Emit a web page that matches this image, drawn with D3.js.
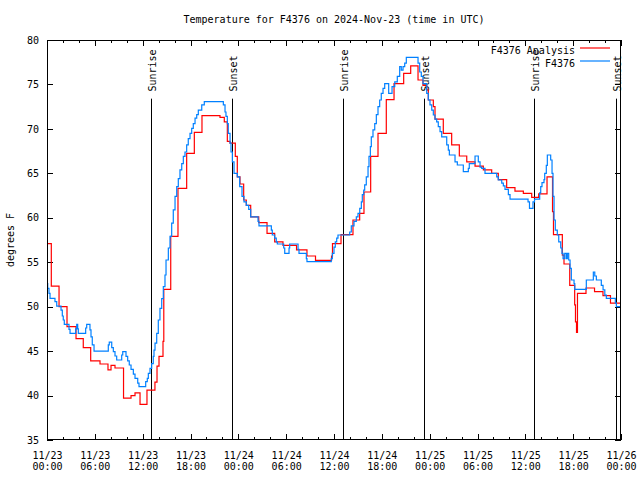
<!DOCTYPE html>
<html><head><meta charset="utf-8">
<script src="https://cdn.jsdelivr.net/npm/d3@7"></script>
<style>
body{margin:0;background:#fff;}
text{font-family:"DejaVu Sans Mono","Liberation Mono",monospace;font-size:10px;fill:#000;}
</style></head>
<body><svg id="c" width="640" height="480"></svg>
<script>
// ---- data (hours since 2024-11-23 00:00 UTC) ----
const chartTitle = "Temperature for F4376 on 2024-Nov-23 (time in UTC)";
const yLabel = "degrees F";
const seriesNames = ["F4376 Analysis", "F4376"];
const yTicks = [35,40,45,50,55,60,65,70,75,80];

const analysisHours = [0,0.54,1.51,2.51,3.64,4.55,5.48,6.65,7.65,8.03,8.53,9.6,10.54,11.04,11.67,12.54,13.54,13.8,14.05,14.55,14.65,15.52,16.43,17.52,18.48,19.44,21.7,22.24,22.62,22.96,23.62,23.87,24.21,24.67,25.0,25.55,26.56,27.6,28.56,29.6,31.3,32.61,33.68,35.69,35.81,36.88,38.38,39.22,39.76,40.6,41.52,42.56,43.53,44.74,45.62,46.54,47.16,47.63,47.83,48.46,48.67,49.71,50.76,51.72,52.65,53.69,54.73,55.78,56.61,57.66,58.7,59.75,60.8,61.68,62.72,63.41,63.53,64.64,64.85,65.57,66.19,66.29,66.42,66.54,67.61,68.68,69.74,70.68,72];
const analysisTemps = [57.1,52.3,50.0,47.75,46.4,45.4,43.9,43.55,42.9,43.4,43.1,39.7,40.0,40.3,39.0,40.6,41.5,43.3,44.4,46.1,51.95,57.9,63.3,67.25,69.6,71.5,71.3,70.8,68.6,68.4,66.9,64.6,63.8,62.0,61.4,60.1,59.45,58.25,57.3,56.9,56.4,55.7,55.2,55.7,57.1,58.1,59.75,60.5,62.9,66.9,69.5,73.3,75.1,76.25,77.1,75.5,74.9,74.4,73.25,72.5,71.1,69.5,68.2,66.95,66.3,65.8,65.4,65.0,64.3,63.4,63.0,62.75,62.3,62.7,64.6,60.7,58.1,55.8,54.8,52.4,50.2,48.3,47.1,51.5,52.1,51.7,51.25,50.4,50.4];

const stationHours = [0,0.09,0.25,0.38,1.0,1.22,1.76,1.92,2.04,2.17,2.76,2.89,3.6,3.73,3.85,3.93,4.85,4.98,5.39,5.52,5.68,5.9,7.69,7.81,8.12,8.32,8.53,8.74,9.37,9.5,9.91,10.12,10.32,10.54,10.83,11.04,11.38,11.54,12.38,12.58,12.71,12.92,13.13,13.33,13.42,13.55,13.76,13.96,14.17,14.39,14.59,14.8,14.93,15.22,15.43,15.64,15.84,16.06,16.27,16.47,16.68,16.9,17.1,17.31,17.52,17.72,17.94,18.15,18.35,18.57,18.78,18.98,19.41,19.73,22.12,22.33,22.45,22.62,22.74,22.96,23.08,23.25,23.46,23.87,24.17,24.46,24.71,25.0,25.3,25.55,26.47,26.59,28.14,28.26,28.56,28.76,28.89,29.69,29.82,30.36,30.44,31.49,31.61,32.53,32.61,35.66,35.79,36.0,36.16,36.34,36.5,37.97,38.17,38.51,38.8,39.01,39.23,39.43,39.55,39.73,39.85,40.05,40.27,40.39,40.56,40.68,40.89,41.11,41.31,41.52,41.73,41.93,42.15,42.36,42.86,43.28,43.62,43.94,44.24,44.44,44.66,44.87,45.07,46.54,46.75,46.95,47.16,47.63,47.83,48.04,48.26,48.46,48.67,48.88,49.08,49.3,49.51,50.14,50.34,50.47,51.18,51.47,52.22,52.85,52.97,53.69,54.1,54.32,54.53,54.94,56.41,56.61,57.04,57.24,57.45,57.87,58.08,60.34,60.52,60.96,61.15,61.8,61.93,62.09,62.34,62.43,62.63,62.76,63.18,63.35,63.47,63.6,63.76,64.01,64.19,64.44,64.6,64.73,64.94,65.14,65.27,65.44,65.61,65.77,66.11,66.2,67.65,68.53,68.71,68.91,69.53,69.75,69.97,70.16,71.29,71.42,72];
const stationTemps = [52.6,52.06,51.5,50.94,50.56,50.07,49.6,48.95,48.5,48.0,47.45,47.0,47.5,48.0,47.5,47.0,47.6,48.0,47.4,46.6,45.7,45.0,45.7,46.0,45.4,44.94,44.45,44.0,44.56,44.94,44.4,43.9,43.44,42.95,42.4,41.94,41.4,41.0,41.56,41.94,42.5,43.06,43.6,44.4,45.1,45.9,47.0,48.5,49.8,50.9,52.25,53.56,55.25,56.6,57.9,59.4,60.9,62.4,63.5,64.4,65.4,66.1,66.9,67.4,68.2,68.9,69.5,70.06,70.6,71.2,71.6,72.1,72.7,73.06,72.7,71.9,71.4,70.6,69.5,68.4,67.4,66.3,65.0,64.6,63.5,62.4,61.8,61.4,60.95,60.1,59.6,59.1,58.6,58.06,57.7,57.3,57.05,56.6,56.0,56.6,57.05,56.45,56.0,55.4,55.06,55.4,56.0,56.7,57.3,57.7,58.06,58.4,59.1,59.6,60.1,60.5,61.06,61.8,62.6,63.1,63.7,64.6,65.75,66.9,68.0,69.1,69.9,70.6,71.6,72.5,73.25,74.0,74.56,75.1,74.0,74.75,75.3,75.9,77.0,76.6,77.0,77.4,78.05,77.4,76.4,75.9,75.1,74.0,73.25,72.7,72.1,71.56,71.1,70.8,70.25,69.7,69.1,68.2,67.6,67.06,66.3,65.94,65.2,65.56,66.1,66.95,66.3,65.7,65.56,65.0,64.6,64.25,63.9,63.6,63.2,62.6,62.1,61.8,61.06,61.8,62.1,62.8,63.5,63.95,64.3,65.0,65.9,67.06,66.5,65.0,62.4,59.75,58.6,58.06,57.3,56.6,56.0,55.4,56.0,55.4,56.0,55.25,54.3,53.0,52.6,51.95,53.0,53.9,53.45,53.0,52.4,51.9,51.3,50.94,50.4,50.0,50.0];

const sunHours = [13.05,23.24,37.13,47.25,61.09,71.32];
const sunLabels = ["Sunrise","Sunset","Sunrise","Sunset","Sunrise","Sunset"];

// ---- drawing ----
const START = Date.UTC(2024,10,23);
const toDate = h => new Date(START + h*3600e3);
const L=47, R=621, T=40, B=440;
const svg = d3.select("#c");
const x = d3.scaleUtc().domain([toDate(0), toDate(72)]).range([L,R]);
const y = d3.scaleLinear().domain([35,80]).range([B,T]);

const majorT = d3.range(0,73,6).map(toDate);
const minorT = d3.range(0,73,2).filter(h=>h%6!==0).map(toDate);

// title & y label
svg.append("text").attr("x",(L+R)/2).attr("y",23).attr("text-anchor","middle").text(chartTitle);
svg.append("text").attr("transform","translate(14,240) rotate(-90)").attr("text-anchor","middle").text(yLabel);

// axes
const fmtD = d3.utcFormat("%m/%d"), fmtH = d3.utcFormat("%H:%M");
const gx = svg.append("g").attr("transform",`translate(0,${B})`)
  .call(d3.axisBottom(x).tickValues(majorT).tickSizeInner(-6).tickSizeOuter(0).tickPadding(8).tickFormat(fmtD));
gx.selectAll(".tick text").each(function(d){
  const t=d3.select(this); t.text(null).attr("dy",null).attr("y",null);
  t.append("tspan").attr("x",0).attr("y",19).text(fmtD(d));
  t.append("tspan").attr("x",0).attr("y",30).text(fmtH(d));
});
svg.append("g").attr("transform",`translate(0,${B})`).call(d3.axisBottom(x).tickValues(minorT).tickSizeInner(-3).tickSizeOuter(0).tickFormat(""));
svg.append("g").attr("transform",`translate(0,${T})`).call(d3.axisTop(x).tickValues(majorT).tickSizeInner(-6).tickSizeOuter(0).tickFormat(""));
svg.append("g").attr("transform",`translate(0,${T})`).call(d3.axisTop(x).tickValues(minorT).tickSizeInner(-3).tickSizeOuter(0).tickFormat(""));
svg.append("g").attr("transform",`translate(${L},0)`).call(d3.axisLeft(y).tickValues(yTicks).tickSizeInner(-6).tickSizeOuter(0).tickPadding(8));
svg.append("g").attr("transform",`translate(${R},0)`).call(d3.axisRight(y).tickValues(yTicks).tickSizeInner(-6).tickSizeOuter(0).tickFormat(""));
svg.selectAll(".domain").remove();
svg.selectAll(".tick line").attr("stroke","#000").attr("shape-rendering","crispEdges");
svg.selectAll(".tick text").attr("font-family",null).attr("font-size",null).attr("fill","#000");

// clip
svg.append("clipPath").attr("id","clip").append("rect").attr("x",L).attr("y",T).attr("width",R-L).attr("height",B-T);

// sun lines
const sg = svg.append("g");
sunHours.forEach((h,i)=>{
  const xx = Math.round(x(toDate(h)))+0.5;
  sg.append("line").attr("x1",xx).attr("x2",xx).attr("y1",y(73.4)).attr("y2",B).attr("stroke","#000").attr("stroke-width",1);
  sg.append("text").attr("transform",`translate(${xx+4},${y(74.2)}) rotate(-90)`).attr("text-anchor","start").text(sunLabels[i]);
});

// series
const line = d3.line().curve(d3.curveStepAfter).x(d=>x(toDate(d[0]))).y(d=>y(d[1]));
const red = analysisHours.map((h,i)=>[h,analysisTemps[i]]);
const blue = stationHours.map((h,i)=>[h,stationTemps[i]]);
const pg = svg.append("g").attr("clip-path","url(#clip)");
pg.append("path").datum(red).attr("d",line).attr("fill","none").attr("stroke","#ff0000").attr("stroke-width",1.2);
pg.append("path").datum(blue).attr("d",line).attr("fill","none").attr("stroke","#0080ff").attr("stroke-width",1.2);

// border
svg.append("rect").attr("x",L+0.5).attr("y",T+0.5).attr("width",R-L-1).attr("height",B-T-1).attr("fill","none").attr("stroke","#000").attr("stroke-width",1);

// legend
const colors = ["#ff0000","#0080ff"];
seriesNames.forEach((n,i)=>{
  const yy = 50 + i*13;
  svg.append("text").attr("x",575).attr("y",yy).attr("dy","0.35em").attr("text-anchor","end").text(n);
  svg.append("line").attr("x1",580).attr("x2",610).attr("y1",yy-2).attr("y2",yy-2).attr("stroke",colors[i]).attr("stroke-width",1.2);
});
</script></body></html>
